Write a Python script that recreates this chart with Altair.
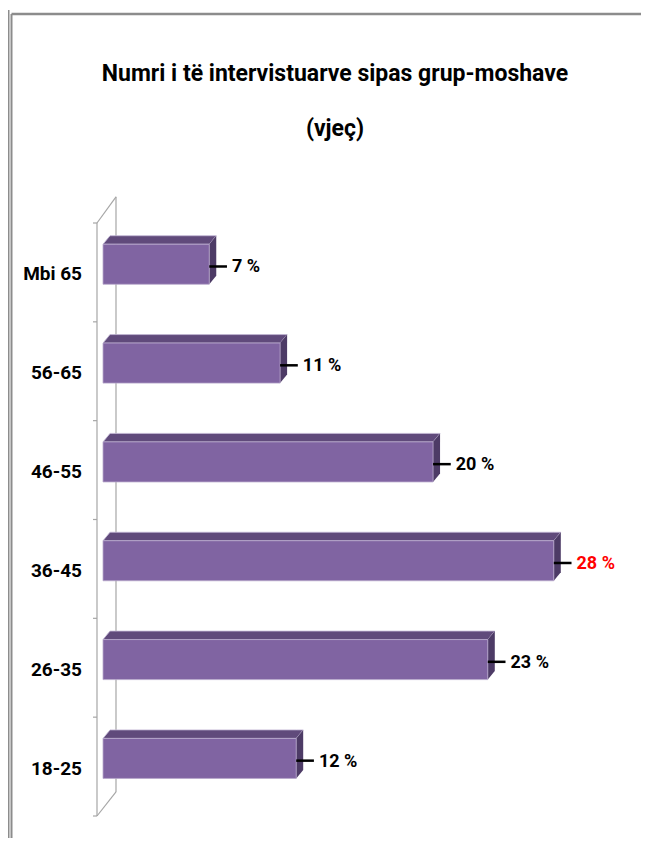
import altair as alt
import pandas as pd

# ---------------- data ----------------
categories = ["18-25", "26-35", "36-45", "46-55", "56-65", "Mbi 65"]   # bottom -> top
pct_labels = [12, 23, 28, 20, 11, 7]                                   # printed labels (%)
bar_len = [12.0, 23.9, 28.0, 20.5, 11.0, 6.6]                          # drawn bar lengths (%)
label_colors = ["#000000", "#000000", "#FF0000", "#000000", "#000000", "#000000"]
title_lines = ["Numri i të intervistuarve sipas grup-moshave", "(vjeç)"]

# ---------------- styling / geometry ----------------
FONT = "'Liberation Sans Narrow', 'Arial Narrow', Roboto, sans-serif"
X_RANGE = [95, 578]
Y_RANGE = [808, 215]
X_DOM = [0, 30]
Y_DOM = [0, 6]
PX_X = (X_RANGE[1] - X_RANGE[0]) / (X_DOM[1] - X_DOM[0])
PX_Y = (Y_RANGE[0] - Y_RANGE[1]) / (Y_DOM[1] - Y_DOM[0])
DX = 7 / PX_X          # 3-D depth, horizontal
DY = 8.5 / PX_Y        # 3-D depth, vertical
FRONT_LO, FRONT_HI = 0.38, 0.785
LEAD = 1.1
FRONT_C = "#8064A2"
TOP_C = "#604A7B"
SIDE_C = "#4D3B66"
WALL_C = "#A6A6A6"
FRAME_C = "#8C8C8C"

xs = alt.Scale(domain=X_DOM, range=X_RANGE)
ys = alt.Scale(domain=Y_DOM, range=Y_RANGE)

rows = list(range(len(categories)))
bars = pd.DataFrame({
    "cat": categories,
    "row": rows,
    "len": bar_len,
    "zero": [0.0] * len(rows),
    "y0": [r + FRONT_LO for r in rows],
    "y1": [r + FRONT_HI for r in rows],
    "ymid": [r + 0.56 for r in rows],
    "ylab": [r + 0.48 for r in rows],
    "lead_end": [L + LEAD for L in bar_len],
    "label": [f"{p} %" for p in pct_labels],
    "lcolor": label_colors,
})

top_pts, side_pts = [], []
for c, r, L in zip(categories, rows, bar_len):
    t = r + FRONT_HI
    b = r + FRONT_LO
    for x, lo, hi in [(0, t, t), (DX, t, t + DY), (L, t, t + DY), (L + DX, t + DY, t + DY)]:
        top_pts.append({"cat": c, "x": x, "lo": lo, "hi": hi})
    for y, lo, hi in [(b, L, L), (b + DY, L, L + DX), (t, L, L + DX), (t + DY, L + DX, L + DX)]:
        side_pts.append({"cat": c, "y": y, "lo": lo, "hi": hi})
top_df = pd.DataFrame(top_pts)
side_df = pd.DataFrame(side_pts)
bounds = pd.DataFrame({"b": list(range(len(categories) + 1))})
one = pd.DataFrame({"a": [0]})

# ---------------- layers ----------------
frame = [
    alt.Chart(one).mark_rule(color=FRAME_C, strokeWidth=2.5).encode(
        x=alt.value(3.5), x2=alt.value(633), y=alt.value(6)),
    alt.Chart(one).mark_rule(color=FRAME_C, strokeWidth=2).encode(
        x=alt.value(3.5), y=alt.value(6), y2=alt.value(830)),
    alt.Chart(one).mark_rule(color=FRAME_C, strokeWidth=2).encode(
        x=alt.value(0.5), y=alt.value(2), y2=alt.value(830)),
]

wall = [
    alt.Chart(one).mark_rule(color=WALL_C, strokeWidth=1.2).encode(
        x=alt.value(89), y=alt.Y(datum=0, scale=ys, axis=None), y2=alt.datum(6)),
    alt.Chart(one).mark_rule(color=WALL_C, strokeWidth=1.2).encode(
        x=alt.value(108), y=alt.Y(datum=0.243, scale=ys, axis=None), y2=alt.datum(6.265)),
    alt.Chart(one).mark_rule(color=WALL_C, strokeWidth=1.2).encode(
        x=alt.value(89), x2=alt.value(108), y=alt.Y(datum=6, scale=ys, axis=None), y2=alt.datum(6.265)),
    alt.Chart(one).mark_rule(color=WALL_C, strokeWidth=1.2).encode(
        x=alt.value(89), x2=alt.value(108), y=alt.Y(datum=0, scale=ys, axis=None), y2=alt.datum(0.243)),
    alt.Chart(bounds).mark_rule(color=WALL_C, strokeWidth=1.2).encode(
        x=alt.value(85), x2=alt.value(89), y=alt.Y("b:Q", scale=ys, axis=None)),
]

top_face = alt.Chart(top_df).mark_area(
    orient="vertical", color=TOP_C, opacity=1, stroke="#C3B7D6", strokeWidth=0.8
).encode(
    x=alt.X("x:Q", scale=xs, axis=None),
    y=alt.Y("lo:Q", scale=ys, axis=None, stack=None),
    y2="hi:Q",
    detail="cat:N",
)

side_face = alt.Chart(side_df).mark_area(
    orient="horizontal", color=SIDE_C, opacity=1
).encode(
    y=alt.Y("y:Q", scale=ys, axis=None),
    x=alt.X("lo:Q", scale=xs, axis=None, stack=None),
    x2="hi:Q",
    detail="cat:N",
)

front = alt.Chart(bars).mark_rect(
    color=FRONT_C, opacity=1, stroke="#B7A8CC", strokeWidth=0.8
).encode(
    x=alt.X("zero:Q", scale=xs, axis=None),
    x2="len:Q",
    y=alt.Y("y0:Q", scale=ys, axis=None),
    y2="y1:Q",
)

leaders = alt.Chart(bars).mark_rule(color="#000000", strokeWidth=2.5).encode(
    x=alt.X("len:Q", scale=xs, axis=None),
    x2="lead_end:Q",
    y=alt.Y("ymid:Q", scale=ys, axis=None),
)

value_labels = alt.Chart(bars).mark_text(
    align="left", baseline="middle", dx=5, dy=1, font=FONT, fontSize=18, fontWeight="bold"
).encode(
    x=alt.X("lead_end:Q", scale=xs, axis=None),
    y=alt.Y("ymid:Q", scale=ys, axis=None),
    text="label:N",
    color=alt.Color("lcolor:N", scale=None),
)

cat_labels = alt.Chart(bars).mark_text(
    align="right", baseline="middle", font=FONT, fontSize=19, fontWeight="bold", color="#000000"
).encode(
    x=alt.value(74),
    y=alt.Y("ylab:Q", scale=ys, axis=None),
    text="cat:N",
)

titles = pd.DataFrame({"t": title_lines, "ty": [73, 128]})
title = alt.Chart(titles).mark_text(
    align="center", baseline="alphabetic", font=FONT, fontSize=23, fontWeight="bold", color="#000000"
).encode(
    x=alt.value(327),
    y=alt.Y("ty:Q", scale=None, axis=None),
    text="t:N",
)

chart = alt.layer(
    *frame, *wall, top_face, side_face, front, leaders, value_labels, cat_labels, title
).properties(
    width=633, height=830, padding=0,
    autosize=alt.AutoSizeParams(type="none"),
).configure_view(stroke=None)

chart.save("out.html", embed_options={"renderer": "svg", "actions": False})
